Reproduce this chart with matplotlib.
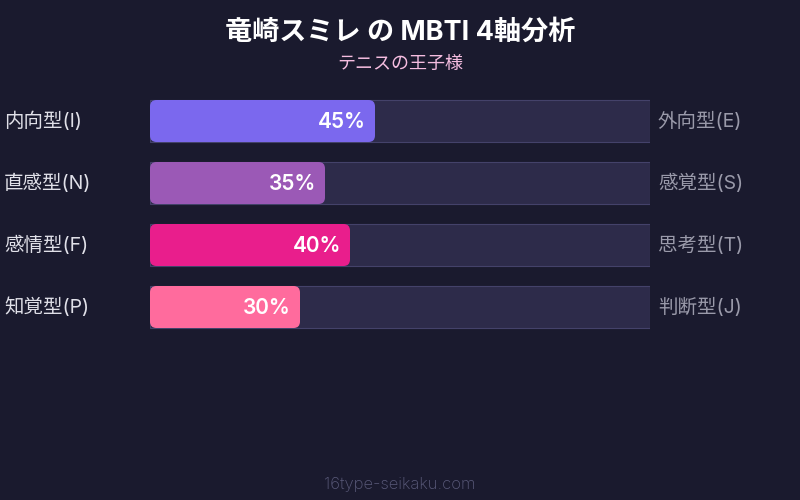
import matplotlib
matplotlib.use("Agg")
import matplotlib.pyplot as plt
from matplotlib.patches import FancyBboxPatch

plt.rcParams['font.family'] = ['Inter', 'Noto Sans CJK JP', 'DejaVu Sans']

# data
title = "竜崎スミレ の MBTI 4軸分析"
subtitle = "テニスの王子様"
left_labels = ["内向型(I)", "直感型(N)", "感情型(F)", "知覚型(P)"]
right_labels = ["外向型(E)", "感覚型(S)", "思考型(T)", "判断型(J)"]
percents = [45, 35, 40, 30]
bar_colors = ["#7b68ee", "#9b59b6", "#e91e8c", "#ff6b9d"]
footer = "16type-seikaku.com"

BG = "#1a1a2e"

fig = plt.figure(figsize=(8, 5), dpi=100)
fig.patch.set_facecolor(BG)

# axes spans the track area: x 150..650 px, y 90..338 px
ax = fig.add_axes([150 / 800, (500 - 338) / 500, 500 / 800, 248 / 500])
ax.set_facecolor(BG)
ax.set_xlim(0, 100)
ax.set_ylim(len(percents), 0)
ax.axis("off")

bar_h = 42 / 62
aspect = (1 / 62) / (100 / 500)

for i, (pct, col) in enumerate(zip(percents, bar_colors)):
    yc = i + 0.5
    # background track
    ax.barh(yc, 100, height=bar_h, left=0, color="#2d2b4a",
            edgecolor="#44426a", linewidth=0.8, zorder=1)
    # value bar (rounded)
    box = FancyBboxPatch((0, yc - bar_h / 2), pct, bar_h,
                         boxstyle="round,pad=0,rounding_size=1.3",
                         mutation_aspect=aspect,
                         facecolor=col, edgecolor="none", zorder=2)
    ax.add_patch(box)
    ax.text(pct - 1.8, yc + 0.02, f"{pct}%", ha="right", va="center",
            color="white", fontsize=15, fontweight="semibold", zorder=3)
    ax.text(-28.8 - 0.4, yc, left_labels[i], ha="left", va="center",
            color="#e0e0e8", fontsize=14, clip_on=False)
    ax.text(101.6, yc, right_labels[i], ha="left", va="center",
            color="#9a9aaa", fontsize=14, clip_on=False)

fig.text(0.5, 1 - 33 / 500, title, ha="center", va="center",
         color="white", fontsize=19.5, fontweight="bold")
fig.text(0.5, 1 - 64 / 500, subtitle, ha="center", va="center",
         color="#f5bde0", fontsize=13)
fig.text(0.5, 1 - 485 / 500, footer, ha="center", va="center",
         color="#5a5a7a", fontsize=12, fontweight="light")

fig.savefig("out.png", dpi=100, facecolor=BG)
